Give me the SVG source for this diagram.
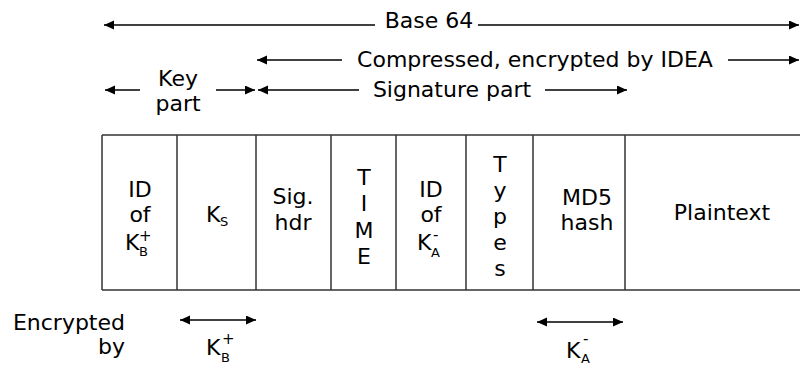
<svg xmlns="http://www.w3.org/2000/svg" width="800" height="367" viewBox="0 0 800 367">
<style>
text{font-family:"DejaVu Sans",sans-serif;font-size:22px;fill:#000}
.c{text-anchor:middle}
.e{text-anchor:end}
.sub{font-size:13px}
.sup{font-size:15px}
.cell{fill:none;stroke:#333;stroke-width:1.5}
.arr{stroke:#000;stroke-width:1.3;fill:none}
</style>
<defs>
<marker id="ah" markerUnits="userSpaceOnUse" markerWidth="11" markerHeight="10" refX="10" refY="4.5" orient="auto-start-reverse" viewBox="0 0 11 10">
<path d="M0,0 L10,4.5 L0,9 z" fill="#000"/>
</marker>
</defs>
<rect width="800" height="367" fill="#fff"/>

<g id="connectors">
<line class="arr" x1="375" y1="25" x2="104" y2="25" marker-end="url(#ah)"/>
<line class="arr" x1="478" y1="25" x2="799" y2="25" marker-end="url(#ah)"/>
<line class="arr" x1="342" y1="60" x2="257" y2="60" marker-end="url(#ah)"/>
<line class="arr" x1="728" y1="60" x2="799" y2="60" marker-end="url(#ah)"/>
<line class="arr" x1="140" y1="90" x2="105" y2="90" marker-end="url(#ah)"/>
<line class="arr" x1="216" y1="90" x2="255" y2="90" marker-end="url(#ah)"/>
<line class="arr" x1="359" y1="90" x2="258" y2="90" marker-end="url(#ah)"/>
<line class="arr" x1="545" y1="90" x2="627" y2="90" marker-end="url(#ah)"/>
<line class="arr" x1="180" y1="320" x2="256" y2="320" marker-start="url(#ah)" marker-end="url(#ah)"/>
<line class="arr" x1="537" y1="322" x2="623" y2="322" marker-start="url(#ah)" marker-end="url(#ah)"/>
</g>

<g id="labels">
<text class="c" x="429" y="28">Base 64</text>
<text class="c" x="535" y="67">Compressed, encrypted by IDEA</text>
<text class="c" x="178" y="86">Key</text>
<text class="c" x="178" y="111">part</text>
<text class="c" x="452" y="97">Signature part</text>
<text class="e" x="125" y="330">Encrypted</text>
<text class="e" x="125" y="354">by</text>
<text x="206" y="355">K</text><text class="sub" x="221" y="362">B</text><text class="sup" x="222" y="344">+</text>
<text x="566" y="358">K</text><text class="sub" x="581" y="363">A</text><text class="sup" x="583" y="344">-</text>
</g>

<g id="table">
<line class="cell" x1="102" y1="135" x2="800" y2="135"/>
<line class="cell" x1="102" y1="290" x2="800" y2="290"/>
<line class="cell" x1="102" y1="135" x2="102" y2="290"/>
</g>

<g id="cell-idkb">
<line class="cell" x1="177" y1="135" x2="177" y2="290"/>
<text class="c" x="140" y="197">ID</text>
<text class="c" x="140" y="222">of</text>
<text x="125" y="250">K</text><text class="sub" x="139" y="256">B</text><text class="sup" x="139" y="241">+</text>
</g>

<g id="cell-ks">
<line class="cell" x1="256" y1="135" x2="256" y2="290"/>
<text x="206" y="222">K</text><text class="sub" x="220" y="226">S</text>
</g>

<g id="cell-sighdr">
<line class="cell" x1="331" y1="135" x2="331" y2="290"/>
<text class="c" x="293" y="204">Sig.</text>
<text class="c" x="293" y="230">hdr</text>
</g>

<g id="cell-time">
<line class="cell" x1="396" y1="135" x2="396" y2="290"/>
<text class="c"><tspan x="364" y="185">T</tspan><tspan x="364" y="211">I</tspan><tspan x="364" y="238">M</tspan><tspan x="364" y="264">E</tspan></text>
</g>

<g id="cell-idka">
<line class="cell" x1="466" y1="135" x2="466" y2="290"/>
<text class="c" x="431" y="197">ID</text>
<text class="c" x="431" y="222">of</text>
<text x="417" y="250">K</text><text class="sub" x="431" y="257">A</text><text class="sup" x="433" y="240">-</text>
</g>

<g id="cell-types">
<line class="cell" x1="533" y1="135" x2="533" y2="290"/>
<text class="c"><tspan x="500" y="172">T</tspan><tspan x="500" y="198">y</tspan><tspan x="500" y="224">p</tspan><tspan x="500" y="250">e</tspan><tspan x="500" y="276">s</tspan></text>
</g>

<g id="cell-md5">
<line class="cell" x1="625" y1="135" x2="625" y2="290"/>
<text class="c" x="587" y="205">MD5</text>
<text class="c" x="587" y="230">hash</text>
</g>

<g id="cell-plaintext">
<text class="c" x="722" y="220">Plaintext</text>
</g>
</svg>
